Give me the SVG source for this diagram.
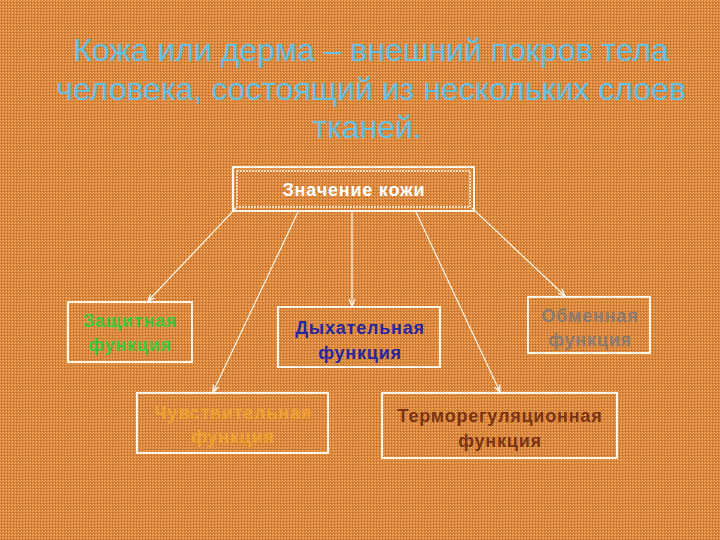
<svg xmlns="http://www.w3.org/2000/svg" width="720" height="540" viewBox="0 0 720 540">
<defs>
<pattern id="bg" width="3" height="3" patternUnits="userSpaceOnUse">
<rect width="3" height="3" fill="#D9843A"/>
<rect x="0" y="0" width="1" height="1" fill="#F3B466"/>
<rect x="2" y="1" width="1" height="1" fill="#F0A858"/>
<rect x="1" y="2" width="1" height="1" fill="#B8652A"/>
</pattern>
<marker id="ar" markerWidth="8" markerHeight="8" refX="7" refY="4" orient="auto" markerUnits="userSpaceOnUse">
<path d="M0,1 L7,4 L0,7" fill="none" stroke="#FFFFFF" stroke-width="1.2"/>
</marker>
<style>
.box{fill:none;stroke:#FFF6E8;stroke-width:2}
.dbl{fill:none;stroke:#FFF6E8;stroke-width:1.5;stroke-dasharray:2 1}
.t{font-family:"Liberation Sans",Arial,sans-serif;font-weight:bold;font-size:18px;letter-spacing:0.8px;text-anchor:middle}
.c{stroke:#FFF6E8;stroke-width:1.2;fill:none;marker-end:url(#ar)}
</style>
</defs>
<rect width="720" height="540" fill="url(#bg)"/>
<g id="title" font-family="'Liberation Sans',Arial,sans-serif" font-size="32" fill="#62C0E4" text-anchor="middle">
<text x="371" y="61">Кожа или дерма – внешний покров тела</text>
<text x="371" y="100">человека, состоящий из нескольких слоев</text>
<text x="367" y="138">тканей.</text>
</g>
<g id="connectors">
<line class="c" x1="236" y1="208" x2="148" y2="301"/>
<line class="c" x1="298" y1="212" x2="213" y2="392"/>
<line class="c" x1="352" y1="212" x2="352" y2="306"/>
<line class="c" x1="416" y1="212" x2="500" y2="392"/>
<line class="c" x1="472" y1="208" x2="565" y2="296"/>
</g>
<g id="main">
<rect class="box" x="233" y="167" width="241" height="44"/>
<rect class="dbl" x="237" y="171" width="233" height="36"/>
<text class="t" x="354" y="196" font-size="25" letter-spacing="1.3" fill="#FFFFFF">Значение кожи</text>
</g>
<g id="zashchitnaya">
<rect class="box" x="68" y="302" width="124" height="60"/>
<text class="t" x="130" y="327" fill="#3DC83D">Защитная</text>
<text class="t" x="130" y="351" fill="#3DC83D">функция</text>
</g>
<g id="dykhatelnaya">
<rect class="box" x="278" y="307" width="162" height="60"/>
<text class="t" x="360" y="334" font-size="19" letter-spacing="1.1" fill="#2626A0">Дыхательная</text>
<text class="t" x="360" y="359" font-size="19" letter-spacing="1.1" fill="#2626A0">функция</text>
</g>
<g id="obmennaya">
<rect class="box" x="528" y="297" width="122" height="56"/>
<text class="t" x="590" y="322" fill="#8A7A70">Обменная</text>
<text class="t" x="590" y="346" fill="#8A7A70">функция</text>
</g>
<g id="chuvstvitelnaya">
<rect class="box" x="137" y="393" width="191" height="60"/>
<text class="t" x="233" y="419" fill="#F0A030">Чувствительная</text>
<text class="t" x="233" y="443" fill="#F0A030">функция</text>
</g>
<g id="termoregulyatsionnaya">
<rect class="box" x="382" y="393" width="235" height="65"/>
<text class="t" x="500" y="422" font-size="19" letter-spacing="1.1" fill="#7A3414">Терморегуляционная</text>
<text class="t" x="500" y="447" font-size="19" letter-spacing="1.1" fill="#7A3414">функция</text>
</g>
</svg>
